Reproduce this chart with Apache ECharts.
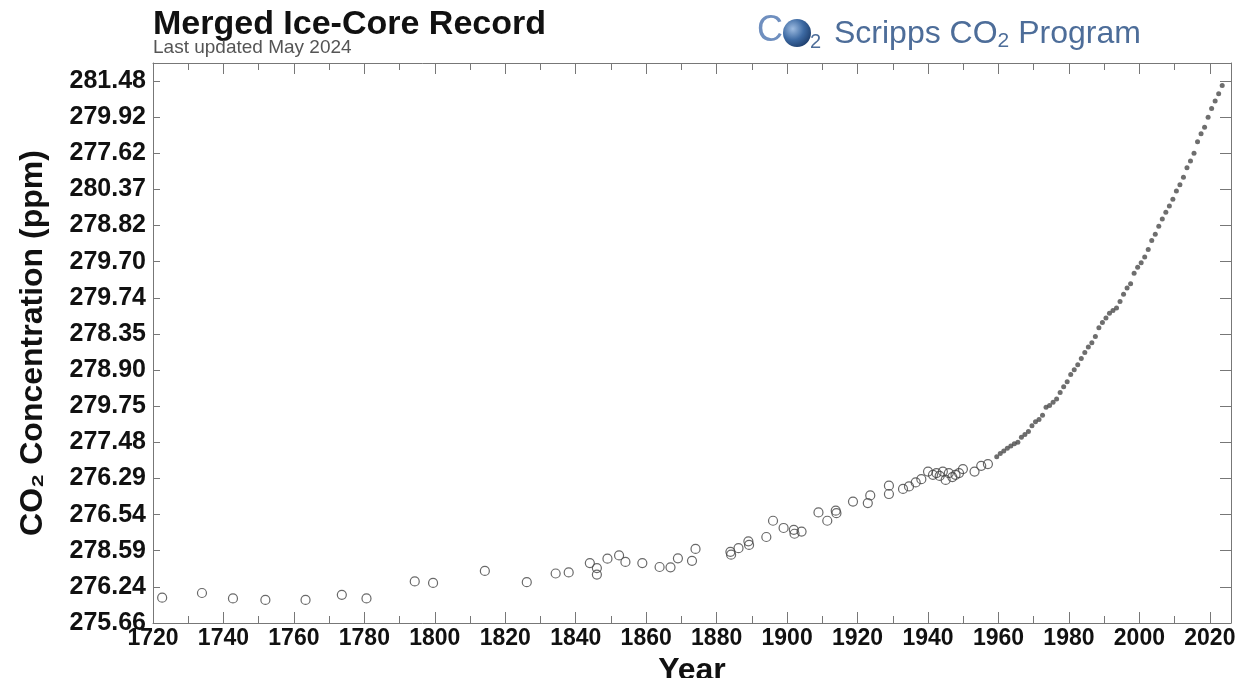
<!DOCTYPE html>
<html>
<head>
<meta charset="utf-8">
<script src="https://cdn.jsdelivr.net/npm/echarts@6/dist/echarts.min.js"></script>
<style>
html,body{margin:0;padding:0;background:#fff;}
#chart{width:1245px;height:678px;}
</style>
</head>
<body>
<div id="chart"></div>
<script>
// Y tick labels as printed, top to bottom
const yTickLabels = ['281.48','279.92','277.62','280.37','278.82','279.70','279.74','278.35','278.90','279.75','277.48','276.29','276.54','278.59','276.24','275.66'];

// Ice-core record (open circles)
const iceYears = [1722.6,1733.9,1742.7,1751.9,1763.3,1773.6,1780.6,1794.3,1799.5,1814.2,1826.1,1834.3,1838.0,1844.0,1846.0,1846.0,1849.0,1852.3,1854.1,1858.9,1863.8,1866.9,1869.0,1873.0,1874.0,1883.9,1884.1,1886.2,1889.0,1889.2,1894.1,1896.0,1899.0,1901.9,1902.1,1904.1,1908.9,1911.4,1913.8,1914.0,1918.7,1922.9,1923.6,1928.9,1928.9,1932.9,1934.6,1936.5,1938.1,1940.0,1941.4,1942.4,1943.3,1944.2,1945.0,1945.9,1946.9,1947.8,1948.8,1949.9,1953.2,1955.1,1957.0];
const iceCO2 = [277.0,278.3,276.8,276.4,276.4,277.8,276.8,281.5,281.1,284.4,281.3,283.7,284.0,286.6,285.2,283.4,287.8,288.7,286.9,286.6,285.5,285.4,287.9,287.2,290.5,289.7,288.9,290.7,292.6,291.6,293.8,298.3,296.3,295.8,294.7,295.3,300.6,298.3,301.1,300.4,303.6,303.2,305.3,308.0,305.7,307.1,307.8,308.9,309.8,311.9,311.0,311.5,310.7,311.9,309.6,311.5,310.4,311.0,311.5,312.6,311.9,313.5,314.0];

// Direct atmospheric record (filled dots)
const mloYears = [1959.5,1960.5,1961.5,1962.5,1963.5,1964.5,1965.5,1966.5,1967.5,1968.5,1969.5,1970.5,1971.5,1972.5,1973.5,1974.5,1975.5,1976.5,1977.5,1978.5,1979.5,1980.5,1981.5,1982.5,1983.5,1984.5,1985.5,1986.5,1987.5,1988.5,1989.5,1990.5,1991.5,1992.5,1993.5,1994.5,1995.5,1996.5,1997.5,1998.5,1999.5,2000.5,2001.5,2002.5,2003.5,2004.5,2005.5,2006.5,2007.5,2008.5,2009.5,2010.5,2011.5,2012.5,2013.5,2014.5,2015.5,2016.5,2017.5,2018.5,2019.5,2020.5,2021.5,2022.5,2023.5];
const mloCO2 = [316.0,316.9,317.6,318.4,319.0,319.6,320.0,321.4,322.2,323.0,324.6,325.7,326.3,327.5,329.7,330.2,331.1,332.0,333.8,335.4,336.8,338.8,340.1,341.5,343.2,344.9,346.4,347.6,349.3,351.7,353.2,354.4,355.7,356.5,357.2,359.0,361.0,362.7,363.9,366.8,368.5,369.7,371.3,373.4,375.9,377.6,379.8,381.8,383.7,385.4,387.3,389.6,391.3,393.4,396.0,397.9,400.0,403.2,405.4,407.2,410.0,412.4,414.5,416.5,418.8];

const X_MIN = 1720, X_MAX = 2026, Y_MIN = 270, Y_MAX = 425, Y_INT = 10;

const chart = echarts.init(document.getElementById('chart'), null, {renderer: 'canvas'});
const FONT = '"Liberation Sans", Arial, Helvetica, sans-serif';
const lineStyle = {color: '#777', width: 1};

function xAx(pos, interval, len, showLabel, showLine, name) {
  const a = {
    type: 'value', position: pos, min: X_MIN, max: X_MAX, interval: interval,
    axisLine: {show: showLine, onZero: false, lineStyle: lineStyle},
    axisTick: {show: true, inside: true, length: len, lineStyle: lineStyle},
    splitLine: {show: false},
    axisLabel: {show: showLabel, showMaxLabel: false, color: '#111', fontFamily: FONT, fontSize: 23, fontWeight: 'bold', margin: 4,
      formatter: function (v) { return String(v); }},
  };
  if (name) {
    a.name = name; a.nameLocation = 'middle'; a.nameGap = 26;
    a.nameTextStyle = {fontFamily: FONT, fontSize: 32, fontWeight: 'bold', color: '#111', verticalAlign: 'top'};
  }
  return a;
}
function yAx(pos, showLabel) {
  const a = {
    type: 'value', position: pos, min: Y_MIN, max: Y_MAX, interval: Y_INT,
    axisLine: {show: true, onZero: false, lineStyle: lineStyle},
    axisTick: {show: true, inside: true, length: pos === 'left' ? 7 : 11, lineStyle: lineStyle},
    splitLine: {show: false},
    axisLabel: {
      show: showLabel, showMaxLabel: false, color: '#111', fontFamily: FONT, fontSize: 25, fontWeight: 'bold', margin: 7,
      formatter: function (v) {
        const idx = Math.round((v - Y_MIN) / Y_INT);
        const fromTop = yTickLabels.length - 1 - idx;
        return yTickLabels[fromTop] !== undefined ? yTickLabels[fromTop] : '';
      }
    }
  };
  if (pos === 'left') {
    a.name = 'CO\u2082 Concentration (ppm)';
    a.nameLocation = 'middle';
    a.nameGap = 104;
    a.nameTextStyle = {fontFamily: FONT, fontSize: 32, fontWeight: 'bold', color: '#111'};
  }
  return a;
}

const option = {
  backgroundColor: '#fff',
  animation: false,
  grid: {left: 153, right: 14, top: 63, bottom: 55, containLabel: false, outerBoundsMode: 'none'},
  xAxis: [
    xAx('bottom', 20, 11, true, true, 'Year'),
    xAx('bottom', 10, 7, false, false),
    xAx('top', 20, 11, false, true),
    xAx('top', 10, 7, false, false)
  ],
  yAxis: [yAx('left', true), yAx('right', false)],
  graphic: [
    {type: 'text', left: 153, top: 8, style: {text: 'Merged Ice-Core Record', font: 'bold 34px ' + FONT, fill: '#111'}},
    {type: 'text', left: 153, top: 38, style: {text: 'Last updated May 2024', font: '19px ' + FONT, fill: '#555'}},
    {type: 'text', left: 757, top: 13, style: {text: 'C', font: '36px ' + FONT, fill: '#6f8fbf'}},
    {type: 'circle', shape: {cx: 797, cy: 33, r: 14}, style: {
      fill: new echarts.graphic.RadialGradient(0.35, 0.35, 0.8, [
        {offset: 0, color: '#9dbbe0'}, {offset: 0.5, color: '#3d6aa3'}, {offset: 1, color: '#16335f'}
      ])}},
    {type: 'text', left: 810, top: 32, style: {text: '2', font: '20px ' + FONT, fill: '#4d6d99'}},
    {type: 'text', left: 834, top: 18, style: {
      rich: {
        m: {font: '32px ' + FONT, fill: '#4d6d99'},
        s: {font: '21px ' + FONT, fill: '#4d6d99', padding: [15, 0, 0, 0]}
      },
      text: '{m|Scripps CO}{s|2}{m| Program}'
    }}
  ],
  series: [
    {
      type: 'scatter', xAxisIndex: 0, yAxisIndex: 0,
      data: iceYears.map((y, i) => [y, iceCO2[i]]),
      symbol: 'circle', symbolSize: 9,
      itemStyle: {color: 'rgba(0,0,0,0)', borderColor: '#444', borderWidth: 1.2},
      silent: true
    },
    {
      type: 'scatter', xAxisIndex: 0, yAxisIndex: 0,
      data: mloYears.map((y, i) => [y, mloCO2[i]]),
      symbol: 'circle', symbolSize: 5,
      itemStyle: {color: '#4a4a4a'},
      silent: true
    }
  ]
};
chart.setOption(option);
</script>
</body>
</html>
